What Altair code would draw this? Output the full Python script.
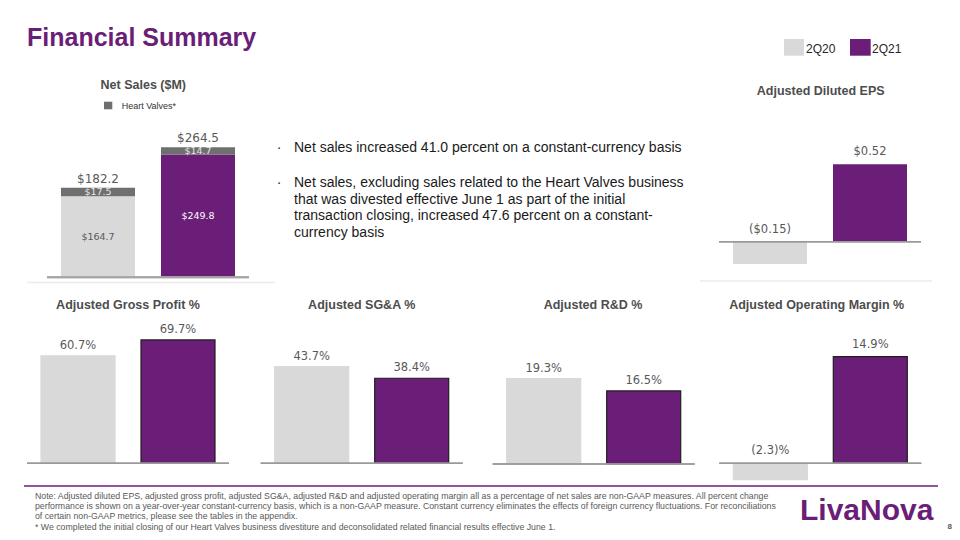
import altair as alt
import pandas as pd

OFF = 8  # page margin: chart origin sits at page (8, 8)
PURPLE = "#6b1e77"
LIGHT = "#d9d9d9"
HV = "#6f6f6f"
TXT = "#595959"
TITLE = "#4d4d4d"
SANS = "Liberation Sans"
NUM = "DejaVu Sans"

# ---------------- data ----------------
periods = ["2Q20", "2Q21"]

ns_continuing = [164.7, 249.8]
ns_heart_valves = [17.5, 14.7]
ns_total = [182.2, 264.5]
ns_continuing_lbl = ["$164.7", "$249.8"]
ns_heart_lbl = ["$17.5", "$14.7"]
ns_total_lbl = ["$182.2", "$264.5"]

eps = [-0.15, 0.52]
eps_lbl = ["($0.15)", "$0.52"]

gross_profit = [60.7, 69.7]
gross_profit_lbl = ["60.7%", "69.7%"]
sga = [43.7, 38.4]
sga_lbl = ["43.7%", "38.4%"]
rd = [19.3, 16.5]
rd_lbl = ["19.3%", "16.5%"]
op_margin = [-2.3, 14.9]
op_margin_lbl = ["(2.3)%", "14.9%"]

bullet_1 = "Net sales increased 41.0 percent on a constant-currency basis"
bullet_2 = ("Net sales, excluding sales related to the Heart Valves business\n"
            "that was divested effective June 1 as part of the initial\n"
            "transaction closing, increased 47.6 percent on a constant-\n"
            "currency basis")
footnote = ("Note: Adjusted diluted EPS, adjusted gross profit, adjusted SG&A, adjusted R&D and adjusted operating margin all as a percentage of net sales are non-GAAP measures. All percent change\n"
            "performance is shown on a year-over-year constant-currency basis, which is a non-GAAP measure. Constant currency eliminates the effects of foreign currency fluctuations. For reconciliations\n"
            "of certain non-GAAP metrics, please see the tables in the appendix.\n"
            "*  We completed the initial closing of our Heart Valves business divestiture and deconsolidated related financial results effective June 1.")


# ---------------- helpers ----------------
def xs(x0):
    return alt.Scale(domain=periods, range=[x0 - OFF, x0 - OFF + 202],
                     paddingInner=0.26, paddingOuter=0.14)


def ys(base, ppu, lo, hi):
    b = base - OFF
    return alt.Scale(domain=[lo, hi], range=[b - lo * ppu, b - hi * ppu], nice=False, zero=False)


def label(s, x, y, size, color=TXT, weight="normal", align="center", font=SANS,
          baseline="middle", **kw):
    df = pd.DataFrame({"t": [s]})
    return alt.Chart(df).mark_text(align=align, baseline=baseline, fontSize=size,
                                   fontWeight=weight, color=color, font=font, **kw).encode(
        text="t:N", x=alt.value(x - OFF), y=alt.value(y - OFF))


def box(x0, y0, x1, y1, color):
    return alt.Chart(pd.DataFrame({"a": [0]})).mark_rect(color=color).encode(
        x=alt.value(x0 - OFF), x2=alt.value(x1 - OFF), y=alt.value(y0 - OFF), y2=alt.value(y1 - OFF))


def hline(x0, x1, y, color, w):
    return alt.Chart(pd.DataFrame({"a": [0]})).mark_rule(color=color, strokeWidth=w).encode(
        x=alt.value(x0 - OFF), x2=alt.value(x1 - OFF), y=alt.value(y - OFF))


def bar_panel(vals, lbls, x0, base, ppu, lo, hi, dy, outline):
    df = pd.DataFrame({"period": periods, "value": vals, "label": lbls})
    X = xs(x0)
    Y = ys(base, ppu, lo, hi)
    bc = alt.Chart(df).transform_calculate(zero="0", ly="max(datum.value, 0)")
    bars = bc.mark_bar(strokeWidth=1.2 if outline else 0).encode(
        x=alt.X("period:N", scale=X, axis=None),
        y=alt.Y("value:Q", scale=Y, axis=None),
        y2=alt.Y2("zero"),
        color=alt.Color("period:N", scale=alt.Scale(domain=periods, range=[LIGHT, PURPLE]), legend=None),
        stroke=alt.condition("datum.period == '2Q21'", alt.value("#1e1e1e"), alt.value(LIGHT)),
    )
    axis = bc.mark_rule(color="#9a9a9a", strokeWidth=1.5).encode(
        x=alt.value(x0 - OFF), x2=alt.value(x0 - OFF + 202),
        y=alt.Y("zero:Q", scale=Y, axis=None))
    text = bc.mark_text(font=NUM, fontSize=11.5, color=TXT, baseline="middle", dy=dy).encode(
        x=alt.X("period:N", scale=X, axis=None),
        y=alt.Y("ly:Q", scale=Y, axis=None),
        text="label:N")
    return alt.layer(bars, axis, text)


# ---------------- net sales (stacked) ----------------
ns_df = pd.DataFrame({
    "period": periods * 2,
    "segment": ["Continuing"] * 2 + ["Heart Valves*"] * 2,
    "value": ns_continuing + ns_heart_valves,
    "label": ns_continuing_lbl + ns_heart_lbl,
    "ord": [0, 0, 1, 1],
})
ns_tot_df = pd.DataFrame({"period": periods, "total": ns_total, "label": ns_total_lbl})
NX = xs(47)
NY = ys(277.3, 0.4915, 0, 300)
ns_base = (alt.Chart(ns_df)
           .transform_stack(stack="value", as_=["y0", "y1"], groupby=["period"],
                            sort=[alt.SortField("ord", order="ascending")])
           .transform_calculate(mid="(datum.y0 + datum.y1) / 2",
                                key="datum.segment == 'Heart Valves*' ? 'HV' : datum.period"))
ns_bars = ns_base.mark_bar().encode(
    x=alt.X("period:N", scale=NX, axis=None),
    y=alt.Y("y1:Q", scale=NY, axis=None),
    y2=alt.Y2("y0"),
    color=alt.Color("key:N", scale=alt.Scale(domain=["2Q20", "2Q21", "HV"], range=[LIGHT, PURPLE, HV]),
                    legend=None),
)
ns_seg_cont = ns_base.transform_filter("datum.segment == 'Continuing'").mark_text(
    font=NUM, fontSize=9.5, baseline="middle").encode(
    x=alt.X("period:N", scale=NX, axis=None),
    y=alt.Y("mid:Q", scale=NY, axis=None),
    text="label:N",
    color=alt.condition("datum.period == '2Q21'", alt.value("white"), alt.value(TXT)))
ns_seg_hv = ns_base.transform_filter("datum.segment == 'Heart Valves*'").mark_text(
    font=NUM, fontSize=9.5, baseline="middle", color="#e6e6e6").encode(
    x=alt.X("period:N", scale=NX, axis=None),
    y=alt.Y("mid:Q", scale=NY, axis=None),
    text="label:N")
ns_tot = alt.Chart(ns_tot_df).mark_text(font=NUM, fontSize=12, color=TXT, baseline="middle", dy=-9).encode(
    x=alt.X("period:N", scale=NX, axis=None),
    y=alt.Y("total:Q", scale=NY, axis=None),
    text="label:N")
ns_axis = alt.Chart(ns_tot_df).transform_calculate(zero="0").mark_rule(color="#a6a6a6", strokeWidth=2).encode(
    x=alt.value(47 - OFF), x2=alt.value(47 - OFF + 202),
    y=alt.Y("zero:Q", scale=NY, axis=None))
net_sales = alt.layer(ns_bars, ns_axis, ns_seg_cont, ns_seg_hv, ns_tot)

# ---------------- other panels ----------------
eps_panel = bar_panel(eps, eps_lbl, 719, 241.7, 148.8, -0.25, 0.6, -12, False)
gp_panel = bar_panel(gross_profit, gross_profit_lbl, 27, 463.3, 1.77, 0, 100, -10, True)
sga_panel = bar_panel(sga, sga_lbl, 260.7, 463.3, 2.215, 0, 100, -10, True)
rd_panel = bar_panel(rd, rd_lbl, 492.7, 464, 4.43, 0, 40, -10, True)
om_panel = bar_panel(op_margin, op_margin_lbl, 719.3, 463.3, 7.16, -5, 20, -12, True)

# ---------------- text & decorations ----------------
deco = [
    label("Financial Summary", 27, 46, 25, color=PURPLE, weight="bold", align="left",
          baseline="alphabetic"),
    box(784, 39, 804, 55.7, LIGHT),
    box(850, 39, 870.7, 55.7, PURPLE),
    label("2Q20", 806, 49, 12, color="#262626", align="left"),
    label("2Q21", 872, 49, 12, color="#262626", align="left"),
    label("Net Sales ($M)", 143.3, 85, 12.5, color=TITLE, weight="bold"),
    box(104, 101.7, 112.3, 109.3, HV),
    label("Heart Valves*", 121.7, 105.5, 9, color="#333333", align="left"),
    label("Adjusted Diluted EPS", 820.7, 90.7, 12.5, color=TITLE, weight="bold"),
    label("Adjusted Gross Profit %", 128, 305, 12.5, color=TITLE, weight="bold"),
    label("Adjusted SG&A %", 361.7, 305, 12.5, color=TITLE, weight="bold"),
    label("Adjusted R&D %", 593, 305, 12.5, color=TITLE, weight="bold"),
    label("Adjusted Operating Margin %", 816.7, 305, 12.5, color=TITLE, weight="bold"),
    label("·", 279, 148, 14, color="#262626"),
    label("·", 279, 183, 14, color="#262626"),
    label(bullet_1, 294, 148, 14, color="#1a1a1a", align="left"),
    label(bullet_2, 294, 183, 14, color="#1a1a1a", align="left", lineBreak="\n", lineHeight=16.6),
    hline(27, 275, 282.5, "#ececec", 1.5),
    hline(700, 932, 281, "#ececec", 1.5),
    hline(24, 938, 486, PURPLE, 1.5),
    label(footnote, 35, 495.5, 8.75, color=TXT, align="left", lineBreak="\n", lineHeight=10.4),
    label("LivaNova", 800, 520, 30, color=PURPLE, weight="bold", align="left", baseline="alphabetic"),
    label("8", 952, 527, 8, color=TXT, weight="bold", align="right"),
]

chart = alt.layer(
    net_sales, eps_panel, gp_panel, sga_panel, rd_panel, om_panel, *deco
).resolve_scale(
    x="independent", y="independent", color="independent"
).properties(
    width=944, height=524, padding=0, autosize=alt.AutoSizeParams(type="none"),
    background="white"
).configure_view(stroke=None)

chart.save("out.html", embed_options={"renderer": "svg", "actions": False})
